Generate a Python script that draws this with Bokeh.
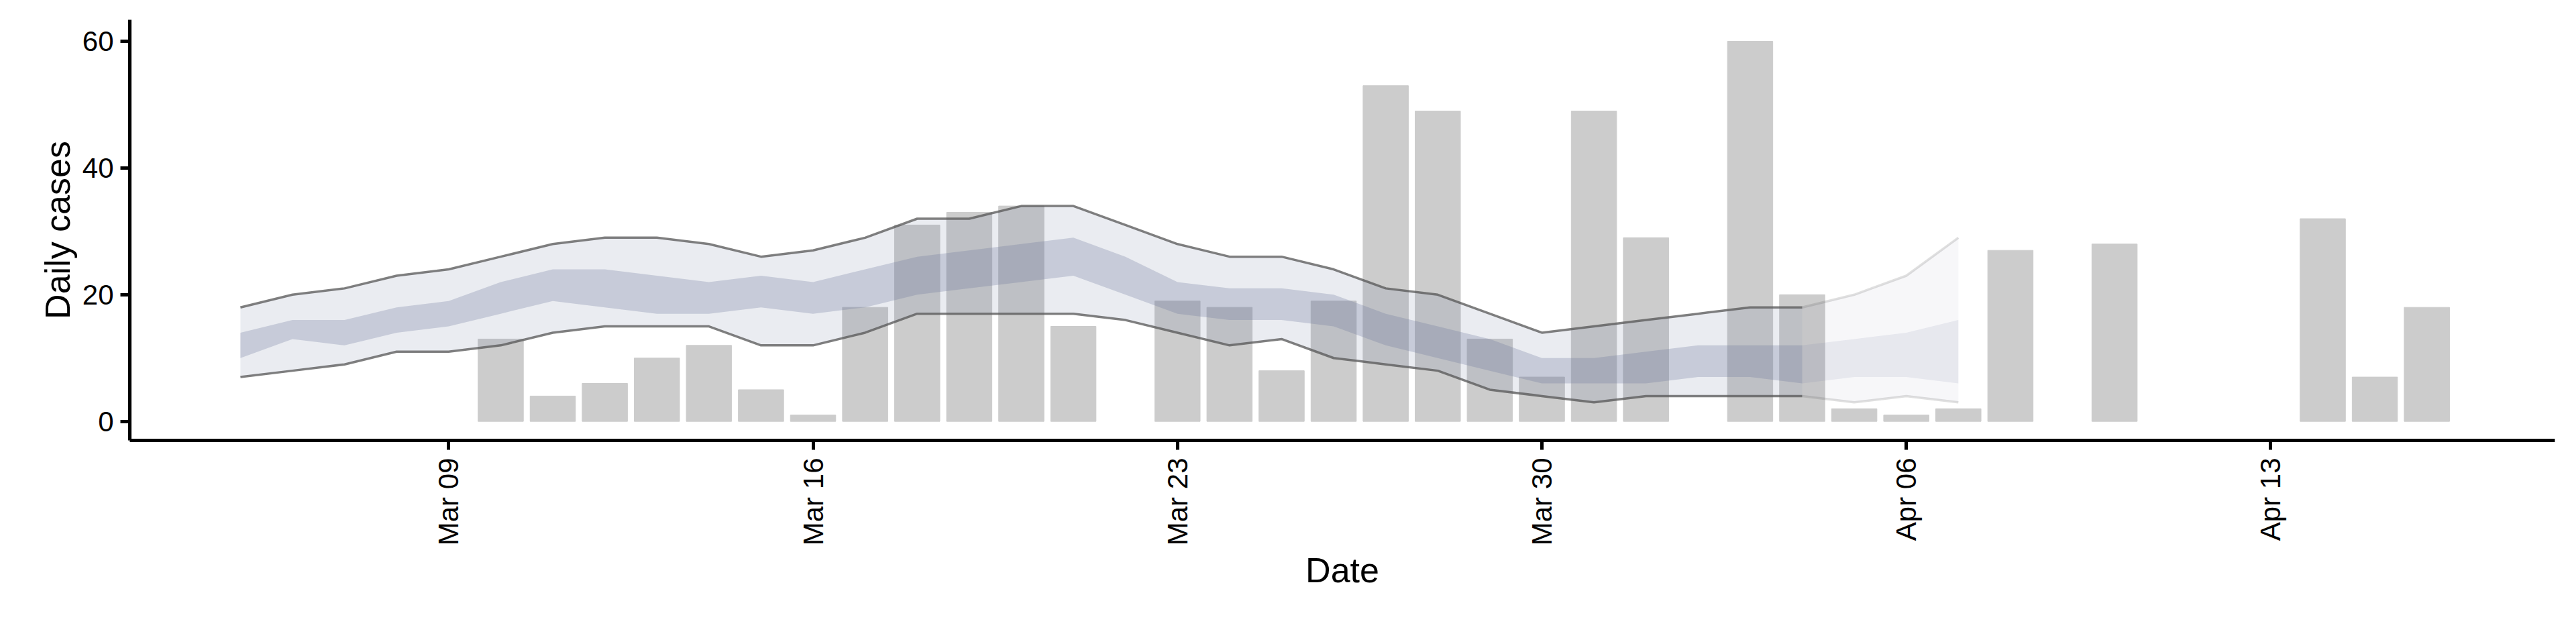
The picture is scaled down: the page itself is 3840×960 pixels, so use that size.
import math
from datetime import datetime, timedelta
from bokeh.plotting import figure
from bokeh.models import Range1d, FixedTicker, DatetimeTickFormatter
from bokeh.embed import file_html
from bokeh.resources import INLINE

# daily reported cases
case_dates = ["2020-03-10", "2020-03-11", "2020-03-12", "2020-03-13", "2020-03-14", "2020-03-15",
              "2020-03-16", "2020-03-17", "2020-03-18", "2020-03-19", "2020-03-20", "2020-03-21",
              "2020-03-23", "2020-03-24", "2020-03-25", "2020-03-26", "2020-03-27", "2020-03-28",
              "2020-03-29", "2020-03-30", "2020-03-31", "2020-04-01", "2020-04-03", "2020-04-04",
              "2020-04-05", "2020-04-06", "2020-04-07", "2020-04-08", "2020-04-10", "2020-04-14",
              "2020-04-15", "2020-04-16"]
cases = [13, 4, 6, 10, 12, 5, 1, 18, 31, 33, 34, 15, 19, 18, 8, 19, 53, 49, 13, 7, 49, 29,
         60, 20, 2, 1, 2, 27, 28, 32, 7, 18]

# estimate bands, Mar 05 .. Apr 07
band_start = "2020-03-05"
upper90 = [18, 20, 21, 23, 24, 26, 28, 29, 29, 28, 26, 27, 29, 32, 32, 34, 34, 31, 28, 26,
           26, 24, 21, 20, 17, 14, 15, 16, 17, 18, 18, 20, 23, 29]
lower90 = [7, 8, 9, 11, 11, 12, 14, 15, 15, 15, 12, 12, 14, 17, 17, 17, 17, 16, 14, 12,
           13, 10, 9, 8, 5, 4, 3, 4, 4, 4, 4, 3, 4, 3]
upper50 = [14, 16, 16, 18, 19, 22, 24, 24, 23, 22, 23, 22, 24, 26, 27, 28, 29, 26, 22, 21,
           21, 20, 17, 15, 13, 10, 10, 11, 12, 12, 12, 13, 14, 16]
lower50 = [10, 13, 12, 14, 15, 17, 19, 18, 17, 17, 18, 17, 18, 20, 21, 22, 23, 20, 17, 16,
           16, 15, 12, 10, 8, 6, 6, 6, 7, 7, 6, 7, 7, 6]
forecast_from = 30  # index of Apr 04, faded section starts here

tick_dates = ["2020-03-09", "2020-03-16", "2020-03-23", "2020-03-30", "2020-04-06", "2020-04-13"]


def ms(d):
    return (d - datetime(1970, 1, 1)).total_seconds() * 1000


DAY = 86400000
cx = [ms(datetime.fromisoformat(d)) for d in case_dates]
b0 = datetime.fromisoformat(band_start)
bx = [ms(b0 + timedelta(days=i)) for i in range(len(upper90))]

p = figure(width=3824, height=944, x_axis_type="datetime", output_backend="svg",
           toolbar_location=None, min_border_left=193, min_border_right=16,
           min_border_top=29, min_border_bottom=288)
p.x_range = Range1d(ms(datetime(2020, 3, 2, 21)), ms(datetime(2020, 4, 18, 11)))
p.y_range = Range1d(-3, 63.4)
p.outline_line_color = None
p.xgrid.visible = False
p.ygrid.visible = False

p.vbar(x=cx, top=cases, bottom=0, width=0.87 * DAY, color="#cccccc")

band_col = "#6d759a"
k = forecast_from
segs = [(slice(0, k + 1), 1.0), (slice(k, None), 0.4)]
for sl, f in segs:
    xs = bx[sl]
    p.varea(x=xs, y1=lower90[sl], y2=upper90[sl], fill_color=band_col, fill_alpha=0.14 * f)
    p.varea(x=xs, y1=lower50[sl], y2=upper50[sl], fill_color=band_col, fill_alpha=0.28 * f)
    p.line(xs, upper90[sl], line_color="#555555", line_alpha=0.75 * f * (0.6 if f < 1 else 1), line_width=3.5)
    p.line(xs, lower90[sl], line_color="#555555", line_alpha=0.75 * f * (0.6 if f < 1 else 1), line_width=3.5)

font = "Liberation Sans"
p.xaxis.ticker = FixedTicker(ticks=[ms(datetime.fromisoformat(d)) for d in tick_dates])
p.xaxis.formatter = DatetimeTickFormatter(days="%b %d", months="%b %d")
p.xaxis.major_label_orientation = math.pi / 2
p.yaxis.ticker = FixedTicker(ticks=[0, 20, 40, 60])
for ax in (p.xaxis, p.yaxis):
    ax.axis_line_width = 5
    ax.axis_line_color = "black"
    ax.major_tick_line_width = 5
    ax.major_tick_line_color = "black"
    ax.major_tick_out = 14
    ax.major_tick_in = 0
    ax.minor_tick_line_color = None
    ax.major_label_text_font = font
    ax.major_label_text_font_size = "42px"
    ax.major_label_text_color = "black"
    ax.axis_label_text_font = font
    ax.axis_label_text_font_size = "52px"
    ax.axis_label_text_font_style = "normal"
    ax.axis_label_text_color = "black"
p.xaxis.axis_label = "Date"
p.yaxis.axis_label = "Daily cases"
p.yaxis.major_label_standoff = 10
p.xaxis.major_label_standoff = 12

open("out.html", "w").write(file_html(p, INLINE))
